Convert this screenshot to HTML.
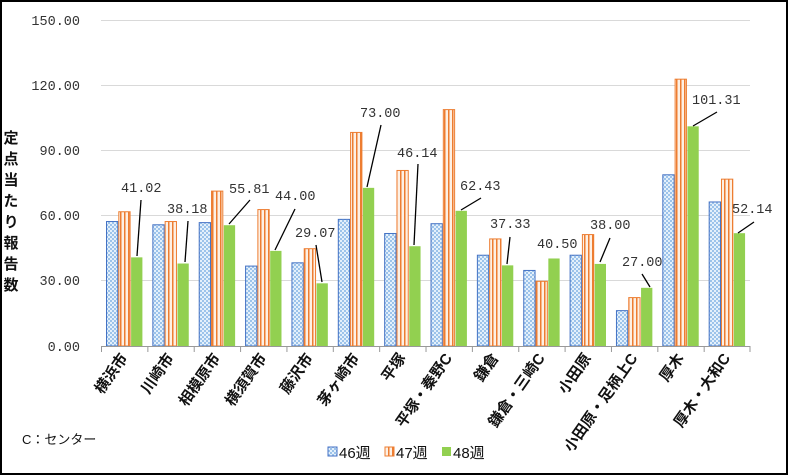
<!DOCTYPE html>
<html><head><meta charset="utf-8"><style>
body{margin:0;background:#fff}
svg{display:block}
text{font-family:"Liberation Mono","Noto Sans CJK JP",monospace;font-size:13.5px;fill:#333}
.j{font-family:"Liberation Sans","Noto Sans CJK JP",sans-serif;font-size:13px;fill:#111}
</style></head><body>
<svg width="788" height="475" viewBox="0 0 788 475">
<defs>
<pattern id="pb" width="4" height="4" patternUnits="userSpaceOnUse"><rect width="4" height="4" fill="#9cc3ea"/><rect width="2" height="2" fill="#e4f0fb"/><rect x="2" y="2" width="2" height="2" fill="#e4f0fb"/></pattern>
<pattern id="po" width="4" height="4" patternUnits="userSpaceOnUse"><rect width="4" height="4" fill="#fdf0e4"/><rect width="1.5" height="4" fill="#ed7d31"/></pattern>
</defs>
<rect x="1" y="1" width="786" height="473" fill="#fff" stroke="#000" stroke-width="2"/>
<g stroke="#d9d9d9" stroke-width="1">
<line x1="101" y1="20.5" x2="750" y2="20.5"/><line x1="101" y1="85.5" x2="750" y2="85.5"/><line x1="101" y1="150.5" x2="750" y2="150.5"/><line x1="101" y1="215.5" x2="750" y2="215.5"/><line x1="101" y1="280.5" x2="750" y2="280.5"/>
</g>
<g text-anchor="end">
<text x="80" y="25">150.00</text><text x="80" y="90">120.00</text><text x="80" y="155">90.00</text><text x="80" y="220">60.00</text><text x="80" y="285">30.00</text><text x="80" y="351">0.00</text>
</g>
<text class="j" x="0" y="0" transform="translate(10,130)" style="writing-mode:vertical-rl;font-weight:bold;font-size:15px;letter-spacing:6px">定点当たり報告数</text>
<g id="bars"></g>
<line x1="101" y1="346.5" x2="750" y2="346.5" stroke="#999"/>
<g id="ticks" stroke="#999"></g>
<g id="xl"></g>
<g stroke="#000" stroke-width="1.3">
<line x1="141" y1="200" x2="137" y2="256"/>
<line x1="188" y1="221" x2="185" y2="262"/>
<line x1="250" y1="200" x2="229" y2="224"/>
<line x1="295" y1="209" x2="275" y2="250"/>
<line x1="316" y1="245" x2="322" y2="282"/>
<line x1="381" y1="125" x2="367" y2="187"/>
<line x1="418" y1="164" x2="414" y2="245"/>
<line x1="481" y1="198" x2="461" y2="210"/>
<line x1="510" y1="237" x2="507" y2="264"/>
<line x1="610" y1="238" x2="600" y2="262"/>
<line x1="642" y1="274" x2="650" y2="287"/>
<line x1="717" y1="112" x2="693" y2="126"/>
<line x1="754" y1="222" x2="738" y2="233"/>
</g>
<g>
<text x="121" y="192">41.02</text><text x="167" y="213">38.18</text><text x="229" y="193">55.81</text>
<text x="275" y="200">44.00</text><text x="295" y="237">29.07</text><text x="360" y="117">73.00</text>
<text x="397" y="157">46.14</text><text x="460" y="190">62.43</text><text x="490" y="228">37.33</text>
<text x="537" y="248">40.50</text><text x="590" y="229">38.00</text><text x="622" y="266">27.00</text>
<text x="692" y="104">101.31</text><text x="732" y="213">52.14</text>
</g>
<text class="j" x="22" y="444">C：センター</text>
<g class="j">
<rect x="328" y="447" width="9" height="9" fill="url(#pb)" stroke="#4472c4"/><text class="j" x="339" y="458" style="font-size:15px">46週</text>
<rect x="385" y="447" width="9" height="9" fill="url(#po)" stroke="#ed7d31"/><text class="j" x="396" y="458" style="font-size:15px">47週</text>
<rect x="442" y="447" width="9" height="9" fill="#92d050"/><text class="j" x="453" y="458" style="font-size:15px">48週</text>
</g>
</svg>
<script>
const d=[["横浜市",57.5,62,41.02],["川崎市",56,57.5,38.18],["相模原市",57,71.5,55.81],["横須賀市",37,63,44],["藤沢市",38.5,45,29.07],["茅ヶ崎市",58.5,98.5,73],["平塚",52,81,46.14],["平塚・秦野C",56.5,109,62.43],["鎌倉",42,49.5,37.33],["鎌倉・三崎C",35,30,40.5],["小田原",42,51.5,38],["小田原・足柄上C",16.5,22.5,27],["厚木",79,123,101.31],["厚木・大和C",66.5,77,52.14]];
const ns="http://www.w3.org/2000/svg",B=document.getElementById("bars"),T=document.getElementById("ticks"),X=document.getElementById("xl");
const s=326/150,w=46.36;
function el(t,a,p){const e=document.createElementNS(ns,t);for(const k in a)e.setAttribute(k,a[k]);p.appendChild(e);return e;}
d.forEach((r,i)=>{const x0=101+w*i;
[[r[1],"url(#pb)","#4472c4"],[r[2],"url(#po)","#ed7d31"],[r[3],"#92d050","none"]].forEach((b,j)=>{const h=b[0]*s;el("rect",{x:x0+5+j*12.3+0.5,y:346-h+0.5,width:11.3,height:h-0.5,fill:b[1],stroke:b[2],"stroke-width":1},B);});
el("line",{x1:x0+0.5,y1:346,x2:x0+0.5,y2:352},T);
const c=x0+w/2+4;const t=el("text",{class:"j",x:0,y:0,"text-anchor":"end",transform:`translate(${c},358) rotate(-55)`,style:"font-size:15px;font-weight:bold"},X);t.textContent=r[0];});
el("line",{x1:750,y1:346,x2:750,y2:352},T);
</script>
</body></html>
